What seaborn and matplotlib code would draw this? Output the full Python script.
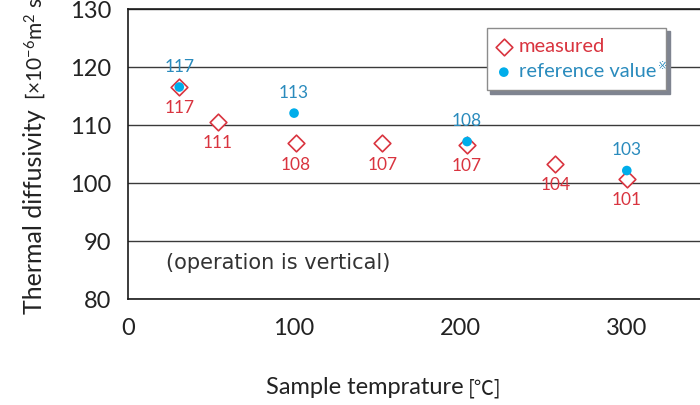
import pandas as pd
import seaborn as sns
import matplotlib.pyplot as plt

# Measured values and reference values
temps_measured = [31, 54, 101, 153, 204, 257, 300]
measured = [116.6, 110.6, 106.9, 106.9, 106.6, 103.4, 100.7]
measured_labels = ["117", "111", "108", "107", "107", "104", "101"]

temps_ref = [31, 100, 204, 300]
reference = [116.6, 112.1, 107.2, 102.2]
ref_labels = ["117", "113", "108", "103"]

y_ticks = [80, 90, 100, 110, 120, 130]
x_ticks = [0, 100, 200, 300]

RED = "#d9343f"
BLUE = "#00adea"
BLUE_TXT = "#2a8bbd"

sns.set_style("white")
plt.rcParams["font.family"] = ["Lato", "DejaVu Sans"]
plt.rcParams["mathtext.default"] = "regular"

df_m = pd.DataFrame({"temp": temps_measured, "val": measured})
df_r = pd.DataFrame({"temp": temps_ref, "val": reference})

fig = plt.figure(figsize=(7, 4.05), dpi=100)
ax = fig.add_axes([127.7 / 700, 1 - 299.3 / 405, 1 - 127.7 / 700, (299.3 - 9.3) / 405])

sns.scatterplot(data=df_m, x="temp", y="val", marker="D", s=72, facecolor="white",
                edgecolor=RED, linewidth=1.2, label="measured", ax=ax, zorder=3)
sns.scatterplot(data=df_r, x="temp", y="val", marker="o", s=48, color=BLUE,
                edgecolor="none", label="reference value", ax=ax, zorder=4)

for x, y, t in zip(temps_measured, measured, measured_labels):
    ax.annotate(t, (x, y), xytext=(0, -15.3), textcoords="offset points",
                ha="center", va="center", color=RED, fontsize=12.5)
for x, y, t in zip(temps_ref, reference, ref_labels):
    ax.annotate(t, (x, y), xytext=(0, 14.5), textcoords="offset points",
                ha="center", va="center", color=BLUE_TXT, fontsize=12.5)

ax.text(90.6, 86.3, "(operation is vertical)", ha="center", va="center",
        fontsize=15, color="#333333", family="DejaVu Sans")

ax.set_xlim(0, 344)
ax.set_ylim(80, 130)
ax.set_xticks(x_ticks)
ax.set_yticks(y_ticks)
ax.yaxis.grid(True, color="#3a3a3a", linewidth=1)
ax.set_axisbelow(True)
ax.spines["right"].set_visible(False)
for side in ["left", "bottom", "top"]:
    ax.spines[side].set_color("#1a1a1a")
    ax.spines[side].set_linewidth(1.2)
ax.tick_params(axis="y", direction="out", length=5, width=1.2, pad=7,
               labelsize=17, colors="#222222")
ax.tick_params(axis="x", direction="inout", length=9, width=1.2, pad=9,
               labelsize=17, colors="#222222")
ax.set_xlabel("")
ax.set_ylabel("")

# axis titles
xlab = fig.text(266 / 700, 1 - 394.3 / 405, "Sample temprature", fontsize=17,
                color="#222222", ha="left", va="baseline")
t1 = fig.text(42 / 700, 1 - 314 / 405, "Thermal diffusivity", fontsize=18,
              color="#222222", rotation=90, rotation_mode="anchor",
              ha="left", va="baseline")

leg = ax.legend(loc="upper left", bbox_to_anchor=(486.7 / 700, 1 - 27.7 / 405),
                bbox_transform=fig.transFigure, borderaxespad=0, fontsize=14.5,
                frameon=True, fancybox=False, edgecolor="#8c8c8c",
                labelcolor=[RED, BLUE_TXT], handletextpad=0.4, labelspacing=0.42,
                borderpad=0.5, handlelength=0.7,
                shadow={"ox": 2.5, "oy": -2.5, "facecolor": "#7f8490",
                        "edgecolor": "#7f8490", "alpha": 1})
leg.get_frame().set_linewidth(1)

fig.canvas.draw()
r = fig.canvas.get_renderer()
# bracket parts of the axis titles and the superscript mark in the legend
xl = xlab.get_window_extent(r)
fig.text((xl.x1 + 4) / 700, 1 - 394.3 / 405, "[℃]", fontsize=14.5, color="#222222",
         ha="left", va="baseline", family=["Noto Sans CJK JP", "DejaVu Sans"])
yl = t1.get_window_extent(r)
fig.text(42 / 700, (yl.y1 + 9) / 405, "[×10$^{-6}$m$^{2}$ s$^{-1}$]", fontsize=15,
         color="#222222", rotation=90, rotation_mode="anchor",
         ha="left", va="baseline")
lt = leg.get_texts()[1].get_window_extent(r)
fig.text(lt.x1 / 700 + 0.002, lt.y1 / 405 - 0.006, "※", fontsize=8,
         color=BLUE_TXT, ha="left", va="center", family="DejaVu Sans")

fig.savefig("out.png", dpi=100)
